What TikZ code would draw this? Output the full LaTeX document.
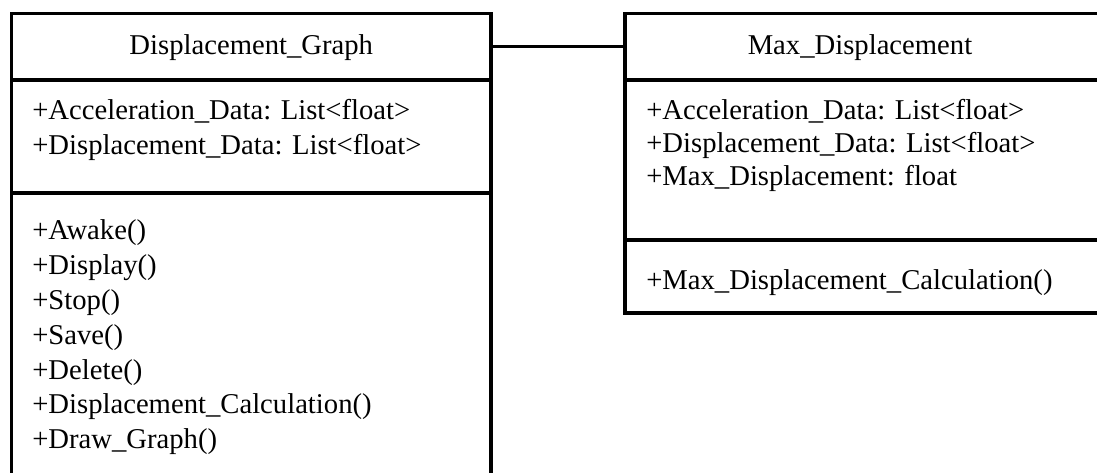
\documentclass[tikz,border=0pt]{standalone}
\usepackage{fontspec}
\setmainfont{Liberation Serif}
\usetikzlibrary{fit}
\begin{document}
\begin{tikzpicture}[x=0.75pt,y=-0.75pt]
\tikzset{
  box/.style={draw=black, line width=2.4pt, inner sep=0pt, outer sep=0pt},
  txt/.style={anchor=base west, inner sep=0pt, font=\fontsize{21.5}{26}\selectfont},
  ttl/.style={anchor=base, inner sep=0pt, font=\fontsize{21.5}{26}\selectfont},
  conn/.style={draw=black, line width=2.4pt}
}
\useasboundingbox (0,0) rectangle (1097,473);
\clip (0,0) rectangle (1097,473);
% Displacement_Graph class
\node[box, fit={(11.5,13.5) (491,80)}] (dghead) {};
\node[box, fit={(11.5,80) (491,193)}] (dgattr) {};
\node[box, fit={(11.5,193) (491,495)}] (dgmeth) {};
% Max_Displacement class
\node[box, fit={(625,13.5) (1100,80)}] (mdhead) {};
\node[box, fit={(625,80) (1100,240)}] (mdattr) {};
\node[box, fit={(625,240) (1100,313)}] (mdmeth) {};
% association
\draw[conn] (dghead.east) -- (mdhead.west);
% titles
\node[ttl] (dgtitle) at (251.25,55) {Displacement\_Graph};
\node[ttl] (mdtitle) at (860,55) {Max\_Displacement};
% left attributes
\node[txt] (dga1) at (32,120) {+Acceleration\_Data: List<float>};
\node[txt] (dga2) at (32,155) {+Displacement\_Data: List<float>};
% left methods
\node[txt] (dgm1) at (32,240) {+Awake()};
\node[txt] (dgm2) at (32,274.8) {+Display()};
\node[txt] (dgm3) at (32,309.6) {+Stop()};
\node[txt] (dgm4) at (32,344.4) {+Save()};
\node[txt] (dgm5) at (32,379.2) {+Delete()};
\node[txt] (dgm6) at (32,414) {+Displacement\_Calculation()};
\node[txt] (dgm7) at (32,448.8) {+Draw\_Graph()};
% right attributes
\node[txt] (mda1) at (646,120) {+Acceleration\_Data: List<float>};
\node[txt] (mda2) at (646,153) {+Displacement\_Data: List<float>};
\node[txt] (mda3) at (646,186) {+Max\_Displacement: float};
% right methods
\node[txt] (mdm1) at (646,290) {+Max\_Displacement\_Calculation()};
\end{tikzpicture}
\end{document}
